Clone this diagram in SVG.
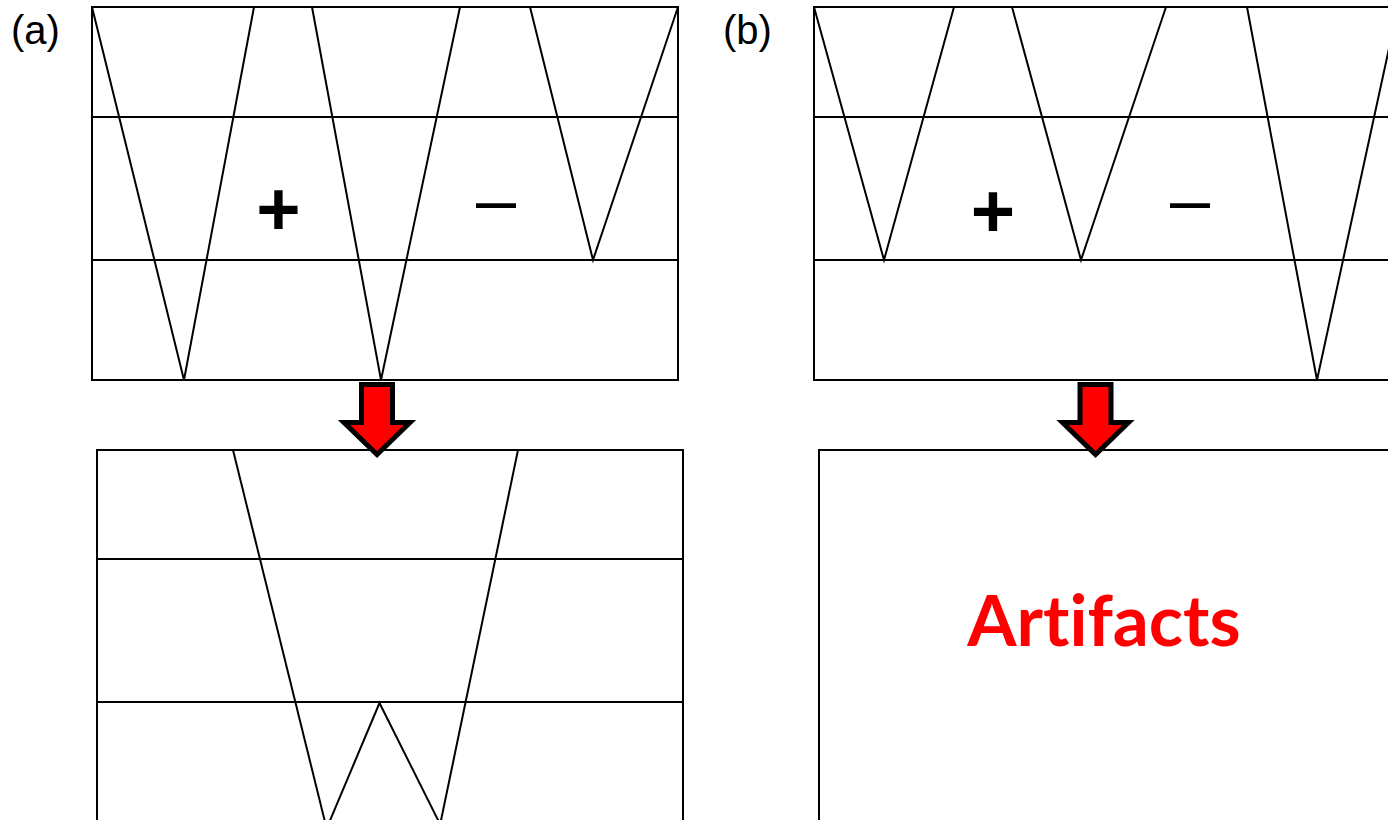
<svg xmlns="http://www.w3.org/2000/svg" width="1388" height="820" viewBox="0 0 1388 820">
<style>
.box{fill:none;stroke:#000;stroke-width:2}
.ln{fill:none;stroke:#000;stroke-width:2;stroke-linejoin:miter}
.lbl{font-family:"Liberation Sans",Arial,sans-serif;font-size:40px;fill:#000}
.sign{font-family:"Liberation Sans",Arial,sans-serif;fill:#000;text-anchor:middle}
.arrow{fill:#ff0000;stroke:#000;stroke-width:5;stroke-linejoin:miter}
</style>
<defs>
<path id="arr" d="M-15.5,0 H15.5 V38 H33 L0,70 L-33,38 H-15.5 Z"/>
</defs>
<rect width="1388" height="820" fill="#fff"/>
<g id="label-a"><text class="lbl" x="11" y="44">(a)</text></g>
<g id="label-b"><text class="lbl" x="723" y="44">(b)</text></g>
<g id="panel-a-top">
<rect class="box" x="92" y="7" width="586" height="373"/>
<line class="ln" x1="92" y1="117" x2="678" y2="117"/>
<line class="ln" x1="92" y1="260" x2="678" y2="260"/>
<polyline class="ln" points="92,7 184,380 254,7"/>
<polyline class="ln" points="312,7 381,380 460,7"/>
<polyline class="ln" points="530,7 593,260 678,7"/>
<text class="sign" x="278.5" y="235" font-size="76" font-weight="bold">+</text>
<text class="sign" x="496" y="224" font-size="72">–</text>
</g>
<g id="panel-a-bottom">
<rect class="box" x="97" y="450" width="586" height="380"/>
<line class="ln" x1="97" y1="559" x2="683" y2="559"/>
<line class="ln" x1="97" y1="702" x2="683" y2="702"/>
<line class="ln" x1="233" y1="450" x2="327" y2="830"/>
<line class="ln" x1="518" y1="450" x2="439" y2="830"/>
<polyline class="ln" points="326,830 379.5,703 443,830"/>
</g>
<g id="panel-b-top">
<rect class="box" x="814" y="7" width="600" height="373"/>
<line class="ln" x1="814" y1="117" x2="1388" y2="117"/>
<line class="ln" x1="814" y1="260" x2="1388" y2="260"/>
<polyline class="ln" points="814,7 884,260 954,7"/>
<polyline class="ln" points="1012,7 1081,260 1166,7"/>
<polyline class="ln" points="1247,7 1317,380 1398,7"/>
<text class="sign" x="993" y="237" font-size="76" font-weight="bold">+</text>
<text class="sign" x="1190" y="224" font-size="72">–</text>
</g>
<g id="panel-b-bottom">
<rect class="box" x="819" y="450" width="600" height="380"/>
<text x="1104" y="646" text-anchor="middle" font-family="Lato,'Open Sans',sans-serif" font-weight="bold" font-size="71" fill="#ff0000" style="font-variant-ligatures:none">Artifacts</text>
</g>
<g id="connectors">
<use href="#arr" class="arrow" transform="translate(377,384.5)"/>
<use href="#arr" class="arrow" transform="translate(1095.5,384.5)"/>
</g>
</svg>
